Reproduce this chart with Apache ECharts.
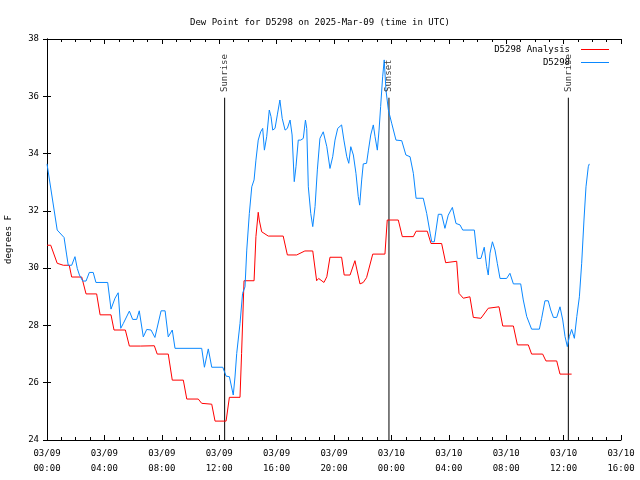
<!DOCTYPE html>
<html>
<head>
<meta charset="utf-8">
<script src="https://cdn.jsdelivr.net/npm/echarts@6/dist/echarts.min.js"></script>
<style>html,body{margin:0;padding:0;background:#fff;}#c{width:640px;height:480px;}</style>
</head>
<body>
<div id="c"></div>
<script>
// Hours since 2025-03-09 00:00 UTC
var analysisHours = [0,0.26,0.71,1.14,1.55,1.72,2.42,2.72,3.46,3.70,4.46,4.67,5.46,5.74,6.53,7.48,7.68,8.45,8.73,9.50,9.74,10.54,10.78,11.48,11.71,12.48,12.71,13.45,13.56,13.73,14.43,14.56,14.72,14.79,14.96,15.42,16.46,16.75,17.40,17.97,18.52,18.79,18.93,19.30,19.50,19.72,20.53,20.71,21.12,21.46,21.81,22.04,22.27,22.70,23.55,23.71,24.48,24.76,25.53,25.72,26.50,26.76,27.50,27.78,28.55,28.71,29.01,29.47,29.71,30.24,30.75,31.50,31.76,32.50,32.78,33.54,33.77,34.54,34.77,35.52,35.75,36.56];
var analysisValues = [30.8,30.8,30.17,30.1,30.1,29.69,29.69,29.1,29.1,28.37,28.37,27.84,27.84,27.28,27.28,27.29,27.0,27.0,26.09,26.09,25.43,25.43,25.28,25.25,24.66,24.66,25.49,25.49,27.02,29.56,29.56,31.1,31.95,31.68,31.27,31.12,31.12,30.46,30.46,30.6,30.6,29.56,29.64,29.5,29.7,30.38,30.38,29.76,29.76,30.26,29.45,29.5,29.67,30.49,30.49,31.68,31.68,31.1,31.1,31.29,31.29,30.86,30.86,30.19,30.24,29.12,28.95,29.0,28.28,28.25,28.6,28.65,27.98,27.98,27.32,27.32,27.0,27.0,26.76,26.76,26.3,26.3];

var obsHours = [0,0.71,1.19,1.37,1.48,1.72,1.95,2.11,2.26,2.49,2.72,2.95,3.22,3.41,4.23,4.46,4.74,4.96,5.14,5.32,5.74,5.97,6.25,6.43,6.71,6.95,7.25,7.52,7.95,8.23,8.45,8.73,8.92,10.78,10.97,11.24,11.48,12.25,12.48,12.71,12.98,13.10,13.22,13.45,13.63,13.80,13.92,14.10,14.27,14.43,14.56,14.72,14.89,15.03,15.15,15.31,15.49,15.61,15.73,15.89,16.05,16.23,16.39,16.59,16.75,16.94,17.08,17.23,17.35,17.51,17.68,17.86,18.01,18.10,18.21,18.38,18.52,18.68,18.84,19.02,19.25,19.50,19.72,19.91,20.07,20.26,20.53,20.69,20.89,21.03,21.17,21.35,21.53,21.69,21.79,21.93,22.04,22.27,22.40,22.56,22.74,22.86,23.02,23.14,23.25,23.39,23.50,23.62,23.79,24.02,24.32,24.72,25.01,25.30,25.53,25.72,26.22,26.46,26.70,26.81,26.99,27.27,27.50,27.73,27.96,28.25,28.50,28.78,28.97,29.78,29.99,30.24,30.47,30.64,30.75,30.87,31.04,31.22,31.38,31.57,32.03,32.26,32.50,33.01,33.19,33.43,33.77,34.31,34.47,34.70,34.93,35.10,35.29,35.52,35.75,35.94,36.10,36.26,36.40,36.56,36.75,36.92,37.10,37.26,37.42,37.56,37.72,37.79];
var obsValues = [33.64,31.33,31.07,30.46,30.1,30.1,30.4,29.99,29.76,29.55,29.55,29.85,29.85,29.5,29.5,28.57,28.95,29.14,27.9,28.07,28.5,28.21,28.21,28.51,27.6,27.86,27.84,27.58,28.51,28.51,27.6,27.84,27.2,27.2,26.54,27.18,26.54,26.54,26.23,26.21,25.57,26.2,27.02,28.07,29.12,29.35,30.63,31.91,32.84,33.08,33.77,34.47,34.76,34.88,34.12,34.59,35.52,35.29,34.82,34.88,35.35,35.87,35.23,34.82,34.88,35.17,34.65,33.02,33.54,34.47,34.47,34.53,35.17,34.88,32.84,31.91,31.45,32.15,33.43,34.53,34.76,34.24,33.48,33.89,34.47,34.88,35.0,34.47,33.89,33.66,34.24,33.95,33.31,32.5,32.2,33.08,33.64,33.66,34.12,34.65,35.0,34.59,34.12,34.82,35.64,36.68,37.27,36.22,35.52,35.06,34.47,34.45,33.95,33.89,33.31,32.44,32.44,31.91,31.22,30.92,30.92,31.88,31.88,31.39,31.85,32.12,31.56,31.51,31.33,31.33,30.34,30.34,30.73,30.05,29.76,30.52,30.92,30.63,30.17,29.64,29.64,29.82,29.45,29.45,28.89,28.31,27.87,27.87,28.25,28.86,28.86,28.54,28.28,28.28,28.65,28.19,27.61,27.26,27.61,27.86,27.55,28.31,29.0,30.17,31.68,32.84,33.54,33.64];

var sunEventHours = [12.38, 23.83, 36.33];
var sunEventNames = ['Sunrise', 'Sunset', 'Sunrise'];

var seriesNames = ['D5298 Analysis', 'D5298'];
var titleText = 'Dew Point for D5298 on 2025-Mar-09 (time in UTC)';
var yName = 'degrees F';

function zip(a, b) { return a.map(function (v, i) { return [v, b[i]]; }); }
function pad(n) { return (n < 10 ? '0' : '') + n; }
function fmtX(v) {
  var day = 9 + Math.floor(v / 24);
  var hr = v % 24;
  return '03/' + pad(day) + '\n' + pad(hr) + ':00';
}

var FONT = 'DejaVu Sans Mono';
var chart = echarts.init(document.getElementById('c'), null, {renderer: 'canvas'});

var series = [
  {name: seriesNames[0], type: 'line', data: zip(analysisHours, analysisValues), symbol: 'none',
   lineStyle: {color: '#ff0000', width: 1}, itemStyle: {color: '#ff0000'}, z: 3},
  {name: seriesNames[1], type: 'line', data: zip(obsHours, obsValues), symbol: 'none',
   lineStyle: {color: '#0a88ff', width: 1}, itemStyle: {color: '#0a88ff'}, z: 3}
];
sunEventHours.forEach(function (h, i) {
  series.push({type: 'line', data: [[h, 24], [h, 35.95]], symbol: 'none', silent: true,
    lineStyle: {color: '#000', width: 1}, z: 2});
  series.push({type: 'scatter', data: [[h, 36.15]], symbolSize: 0, silent: true, z: 4,
    label: {show: true, formatter: sunEventNames[i], position: [0, 0], rotate: 90,
      align: 'left', verticalAlign: 'middle', fontFamily: FONT, fontSize: 9, color: '#000'}});
});

var axisCommon = {
  axisLine: {lineStyle: {color: '#000', width: 1}},
  splitLine: {show: false}
};

function legendFor(name, top) {
  return {data: [{name: name, icon: 'rect'}], right: 31, top: top, orient: 'vertical', align: 'right',
    padding: 0, itemWidth: 28, itemHeight: 1, selectedMode: false,
    textStyle: {fontFamily: FONT, fontSize: 9, color: '#000', padding: [0, 6, 0, 0]}};
}

chart.setOption({
  animation: false,
  backgroundColor: '#fff',
  title: {text: titleText, left: 'center', top: 13,
    textStyle: {fontFamily: FONT, fontSize: 9, fontWeight: 'normal', color: '#000'}},
  legend: [legendFor(seriesNames[0], 45), legendFor(seriesNames[1], 58)],
  grid: {left: 47, right: 19, top: 39, bottom: 40, containLabel: false, outerBoundsMode: 'none'},
  xAxis: [
    Object.assign({type: 'value', min: 0, max: 40, interval: 4, position: 'bottom',
      axisTick: {inside: true, length: 5, lineStyle: {color: '#000'}},
      minorTick: {show: true, splitNumber: 4, length: 3, lineStyle: {color: '#000'}},
      axisLabel: {formatter: fmtX, fontFamily: FONT, fontSize: 9, color: '#000', lineHeight: 15, margin: 6}
    }, axisCommon),
    Object.assign({type: 'value', min: 0, max: 40, interval: 4, position: 'top',
      axisTick: {inside: true, length: 5, lineStyle: {color: '#000'}},
      minorTick: {show: true, splitNumber: 4, length: 3, lineStyle: {color: '#000'}},
      axisLabel: {show: false}
    }, axisCommon)
  ],
  yAxis: [
    Object.assign({type: 'value', min: 24, max: 38, interval: 2, position: 'left',
      name: yName, nameLocation: 'middle', nameRotate: 90, nameGap: 34,
      nameTextStyle: {fontFamily: FONT, fontSize: 9, color: '#000'},
      axisTick: {inside: true, length: 4, lineStyle: {color: '#000'}},
      axisLabel: {fontFamily: FONT, fontSize: 9, color: '#000', margin: 8}
    }, axisCommon),
    Object.assign({type: 'value', min: 24, max: 38, interval: 2, position: 'right',
      axisTick: {inside: true, length: 4, lineStyle: {color: '#000'}},
      axisLabel: {show: false}
    }, axisCommon)
  ],
  series: series
});
</script>
</body>
</html>
